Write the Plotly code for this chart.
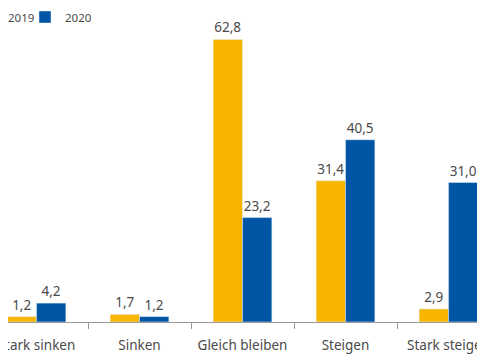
import plotly.graph_objects as go

categories = ["Stark sinken", "Sinken", "Gleich bleiben", "Steigen", "Stark steigen"]
values_2019 = [1.2, 1.7, 62.8, 31.4, 2.9]
values_2020 = [4.2, 1.2, 23.2, 40.5, 31.0]
series_names = ["2019", "2020"]

YELLOW = "#F8B500"
BLUE = "#0056A4"
TEXT = "#4a4a4a"
FONT = "Noto Sans"

xs = list(range(len(categories)))

def fmt(v):
    return f"{v:.1f}".replace(".", ",")

fig = go.Figure()
fig.add_trace(go.Bar(
    x=xs, y=values_2019, name=series_names[0], marker_color=YELLOW,
    text=[fmt(v) for v in values_2019], textposition="outside",
    textfont=dict(color=TEXT, size=13.5, family=FONT), cliponaxis=False,
    legend="legend",
))
fig.add_trace(go.Bar(
    x=xs, y=values_2020, name=series_names[1], marker_color=BLUE,
    text=[fmt(v) for v in values_2020], textposition="outside",
    textfont=dict(color=TEXT, size=13.5, family=FONT), cliponaxis=False,
    legend="legend2",
))
# invisible trace on the boundary axis to draw the category separator ticks
fig.add_trace(go.Scatter(x=[None], y=[None], xaxis="x2", showlegend=False, hoverinfo="skip"))

W, H = 485, 360
OFF = 8  # page body margin
rng = [(OFF - 36.5) / 103, (OFF + W - 36.5) / 103]
T, B = 12, 46
PXU = 4.5

fig.update_layout(
    width=W, height=H,
    margin=dict(l=0, r=0, t=T, b=B, autoexpand=False),
    paper_bgcolor="white", plot_bgcolor="white",
    barmode="group", bargap=0.43, bargroupgap=0,
    font=dict(family=FONT, color=TEXT, size=13),
    xaxis=dict(
        range=rng, tickmode="array", tickvals=xs, ticktext=categories,
        showgrid=False, zeroline=False, showline=True, linecolor="#9a9a9a", linewidth=1,
        ticks="", ticklabelstandoff=11, ticklabeloverflow="allow", automargin=False,
        tickfont=dict(size=13.5, color=TEXT, family=FONT),
    ),
    xaxis2=dict(
        range=rng, overlaying="x", anchor="y", side="bottom", automargin=False,
        tickmode="array", tickvals=[i + 0.5 for i in xs[:-1]], showticklabels=False,
        ticks="outside", ticklen=6, tickcolor="#9a9a9a", showgrid=False, zeroline=False,
        showline=False,
    ),
    yaxis=dict(range=[0, (H - T - B) / PXU], visible=False, automargin=False),
    legend=dict(orientation="h", x=-40 / W, y=1 - 9 / H, xanchor="left", yanchor="middle",
                yref="container", xref="paper", bgcolor="rgba(0,0,0,0)",
                font=dict(size=11.5, color=TEXT, family=FONT)),
    legend2=dict(orientation="h", x=17 / W, y=1 - 9 / H, xanchor="left", yanchor="middle",
                 yref="container", xref="paper", bgcolor="rgba(0,0,0,0)",
                 font=dict(size=11.5, color=TEXT, family=FONT)),
)

fig.write_html("out.html")
